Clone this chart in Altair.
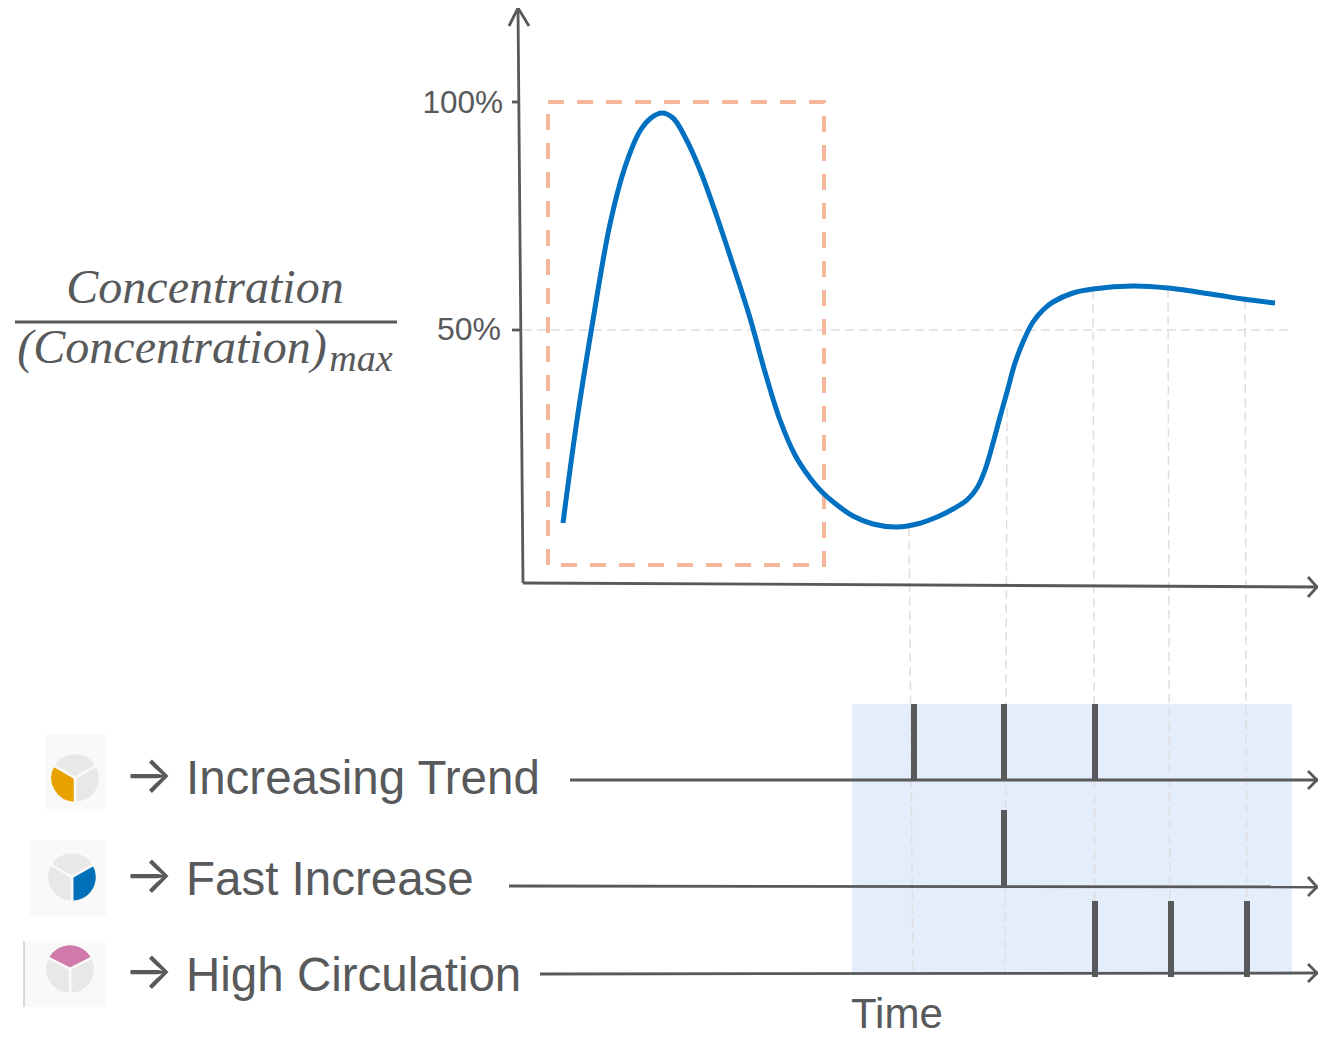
import altair as alt
import pandas as pd

INK = "#58595b"
FONT = "Liberation Sans"
SERIF = "Liberation Serif"

# Curve (picture pixels)
curve_x = [563,577,593,610,625,640,651,662,673,685,700,717,733,750,765,780,795,810,822,837,853,873,897,917,937,953,967,977,985,993,1000,1007,1015,1023,1033,1043,1053,1073,1093,1133,1168,1217,1243,1275]
curve_y = [523,420,320,224,167,131,118,113,118,137,170,217,265,318,372,420,455,478,492,505,516,524,527,524,517,509,500,488,470,443,417,392,363,342,322,310,302,293,289,286,288,295,299,303]

# Axis / timeline lines: id, x0, y0, x1, y1
line_id = ["yaxis","xaxis","t1","t2","t3","frac","tick100","tick50"]
line_x0 = [518,523,570,509,540,15,512,512]
line_y0 = [8,583,780,886,974,322,102,330]
line_x1 = [523,1318,1318,1318,1318,397,520,520]
line_y1 = [583,587,780,887,973,322,102,330]
line_w  = [2.8,2.8,2.8,2.8,2.8,3,2.8,2.8]

# Arrow heads: x, y, group
head_x = [509,518,529, 1308,1317,1308, 1308,1317,1308, 1308,1317,1308, 1308,1317,1308]
head_y = [26,8,26, 577,587,597, 771,780,789, 877,887,896, 964,973,982]
head_g = ["a"]*3 + ["b"]*3 + ["c"]*3 + ["d"]*3 + ["e"]*3

# Dashed guides
guide_x0 = [523,909,1007,1093,1168,1245]
guide_y0 = [330,527,408,290,288,300]
guide_x1 = [1292,913,1005,1095,1170,1247]
guide_y1 = [330,975,975,975,975,975]

# Event bars
bar_x  = [914,1004,1095,1004,1095,1171,1247]
bar_y0 = [704,704,704,810,901,901,901]
bar_y1 = [780,780,780,886,977,977,977]

# Icons
icon_x0 = [45,30,24]; icon_x1 = [106,106,106]
icon_y0 = [734,840,941]; icon_y1 = [809,916,1007]
arc_cx = [75]*3 + [72]*3 + [70]*3
arc_cy = [778]*3 + [877]*3 + [969]*3
arc_a0 = [-1.05,1.05,3.14, -1.05,1.05,3.14, -1.1,1.1,3.14]
arc_a1 = [1.05,3.14,5.24, 1.05,3.14,5.24, 1.1,3.14,5.18]
arc_col = ["#e8e8e8","#e8e8e8","#e8a200", "#e8e8e8","#0070b8","#e8e8e8", "#cf7aaa","#e8e8e8","#e8e8e8"]

# Text
txt = ["100%","50%","Time","Increasing Trend","Fast Increase","High Circulation"]
txt_x = [503,501,851,186,186,186]
txt_y = [113,340,1028,794,895,991]
txt_s = [31.5,32,42,47.5,47.5,47.5]
arrow_txt = ["→","→","→"]
arrow_x = [124,124,124]
arrow_y = [793,893,989]

sx = alt.Scale(domain=[8,1318], nice=False, zero=False)
sy = alt.Scale(domain=[1037,8], nice=False, zero=False)
X = lambda f: alt.X(f, type="quantitative", scale=sx, axis=None)
Y = lambda f: alt.Y(f, type="quantitative", scale=sy, axis=None)

panel = alt.Chart(pd.DataFrame({"x":[852],"x1":[1292],"y":[704],"y1":[975]})).mark_rect(color="#e4eefb").encode(
    x=X("x"), x2="x1", y=Y("y"), y2="y1")

bg = alt.Chart(pd.DataFrame({"x":icon_x0,"x1":icon_x1,"y":icon_y0,"y1":icon_y1})).mark_rect(color="#f9f9f9").encode(
    x=X("x"), x2="x1", y=Y("y"), y2="y1")

sep = alt.Chart(pd.DataFrame({"x":[24],"y":[941],"y1":[1007]})).mark_rule(color="#cccccc", strokeWidth=1.5).encode(
    x=X("x"), y=Y("y"), y2="y1")

arcs = alt.Chart(pd.DataFrame({"x":arc_cx,"y":arc_cy,"a0":arc_a0,"a1":arc_a1,"c":arc_col})).mark_arc(
    stroke="#f9f9f9", strokeWidth=2.5, outerRadius=25, innerRadius=0).encode(
    x=X("x"), y=Y("y"),
    theta=alt.Theta("a0:Q", scale=None), theta2="a1:Q",
    color=alt.Color("c:N", scale=None))

guides = alt.Chart(pd.DataFrame({"x":guide_x0,"y":guide_y0,"x1":guide_x1,"y1":guide_y1})).mark_rule(
    color="#dedede", strokeWidth=1.5, strokeDash=[9,5]).encode(x=X("x"), y=Y("y"), x2="x1", y2="y1")

box = alt.Chart(pd.DataFrame({"x":[548],"x1":[824],"y":[102],"y1":[565]})).mark_rect(
    fillOpacity=0, stroke="#f4b79a", strokeWidth=4, strokeDash=[16,13]).encode(
    x=X("x"), x2="x1", y=Y("y"), y2="y1")

lines = alt.Chart(pd.DataFrame({"x":line_x0,"y":line_y0,"x1":line_x1,"y1":line_y1,"w":line_w,"id":line_id})).mark_rule(color=INK).encode(
    x=X("x"), y=Y("y"), x2="x1", y2="y1", strokeWidth=alt.StrokeWidth("w:Q", scale=None))

heads = alt.Chart(pd.DataFrame({"x":head_x,"y":head_y,"g":head_g,"o":list(range(len(head_x)))})).mark_line(color=INK, strokeWidth=2.8).encode(
    x=X("x"), y=Y("y"), detail="g:N", order="o:Q")

bars = alt.Chart(pd.DataFrame({"x":bar_x,"y":bar_y0,"y1":bar_y1})).mark_rule(color=INK, strokeWidth=6).encode(
    x=X("x"), y=Y("y"), y2="y1")

blue = alt.Chart(pd.DataFrame({"x":curve_x,"y":curve_y,"o":list(range(len(curve_x)))})).mark_line(
    color="#0070c0", strokeWidth=5, interpolate="catmull-rom").encode(x=X("x"), y=Y("y"), order="o:Q")

labels_r = alt.Chart(pd.DataFrame({"x":txt_x[:2],"y":txt_y[:2],"t":txt[:2],"s":txt_s[:2]})).mark_text(
    font=FONT, color=INK, baseline="alphabetic", align="right").encode(
    x=X("x"), y=Y("y"), text="t:N", size=alt.Size("s:Q", scale=None))
labels_l = alt.Chart(pd.DataFrame({"x":txt_x[2:],"y":txt_y[2:],"t":txt[2:],"s":txt_s[2:]})).mark_text(
    font=FONT, color=INK, baseline="alphabetic", align="left").encode(
    x=X("x"), y=Y("y"), text="t:N", size=alt.Size("s:Q", scale=None))
arrows = alt.Chart(pd.DataFrame({"x":arrow_x,"y":arrow_y,"t":arrow_txt})).mark_text(
    font="Inter", color=INK, baseline="alphabetic", align="left", fontSize=52).encode(
    x=X("x"), y=Y("y"), text="t:N")

math = alt.Chart(pd.DataFrame({"x":[205,172,361],"y":[303,363,371],"t":["Concentration","(Concentration)","max"],"s":[48,48,38]})).mark_text(
    font=SERIF, fontStyle="italic", color=INK, baseline="alphabetic", align="center").encode(
    x=X("x"), y=Y("y"), text="t:N", size=alt.Size("s:Q", scale=None))

chart = alt.layer(panel, bg, sep, arcs, guides, box, lines, heads, bars, blue, labels_r, labels_l, arrows, math).properties(
    width=1310, height=1029, padding=0,
    autosize=alt.AutoSizeParams(type="none")
).configure_view(stroke=None)

chart.save("out.html", embed_options={"renderer": "svg", "actions": False})
